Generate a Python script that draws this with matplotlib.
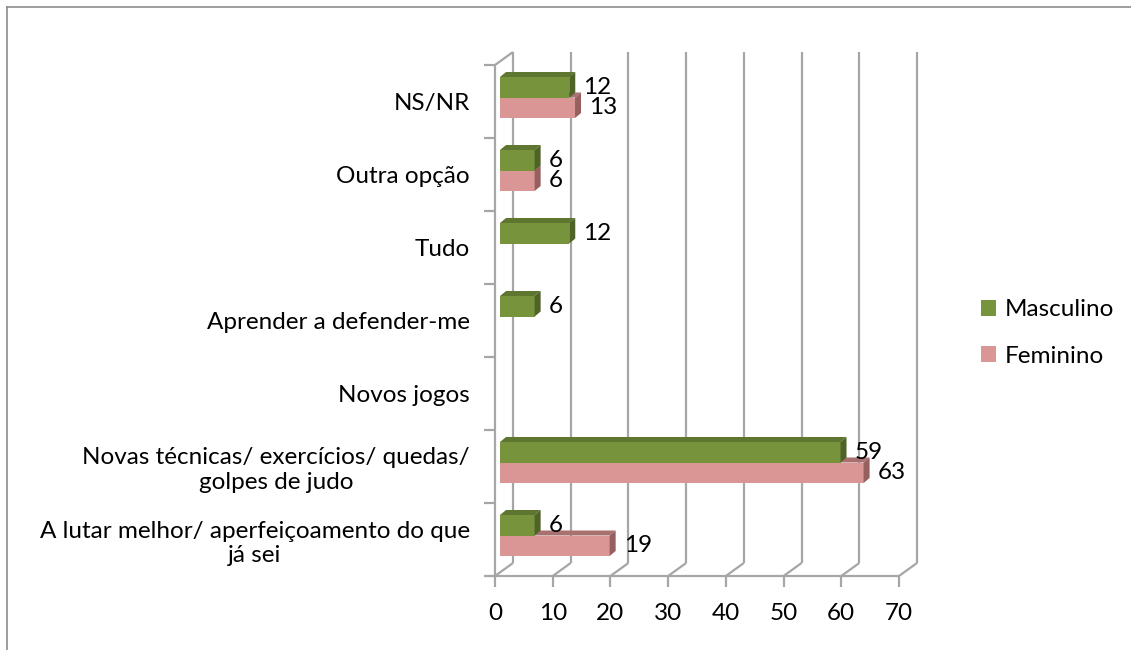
import matplotlib
matplotlib.use("Agg")
import matplotlib.pyplot as plt
from matplotlib.patches import Polygon, Patch
from matplotlib.lines import Line2D

plt.rcParams['font.family'] = ['Lato', 'DejaVu Sans']

# ---- data (bottom to top) ----
categories = [
    "A lutar melhor/ aperfeiçoamento do que\njá sei",
    "Novas técnicas/ exercícios/ quedas/\ngolpes de judo",
    "Novos jogos",
    "Aprender a defender-me",
    "Tudo",
    "Outra opção",
    "NS/NR",
]
masculino = [6, 59, None, 6, 12, 6, 12]
feminino = [19, 63, None, None, None, 6, 13]
series_names = ["Masculino", "Feminino"]
x_ticks = [0, 10, 20, 30, 40, 50, 60, 70]

# ---- styling ----
W, H, DPI = 1131, 650, 100
FS = 17.5
green = dict(front="#77933C", top="#5F7631", side="#4F6228")
pink = dict(front="#D99694", top="#A8706F", side="#96605F")
grid_col = "#A6A6A6"

fig = plt.figure(figsize=(W / DPI, H / DPI), dpi=DPI)
ax_l, ax_r, ax_t, ax_b = 495, 899, 65, 576
ax = fig.add_axes([ax_l / W, 1 - ax_b / H, (ax_r - ax_l) / W, (ax_b - ax_t) / H])
ax.set_xlim(0, 70)
ax.set_ylim(-0.5, 6.5)
ax.patch.set_visible(False)

ppx = (ax_r - ax_l) / 70.0   # pixels per x unit
ppy = (ax_b - ax_t) / 7.0    # pixels per category

# back wall offset (pixels -> data)
bdx, bdy = 18 / ppx, 13 / ppy
# bar-plane offset
ox, oy = 5 / ppx, 4 / ppy
# bar depth
ddx, ddy = 6 / ppx, 5 / ppy
bh = 20.5 / ppy

lkw = dict(color=grid_col, lw=1.6, clip_on=False, solid_capstyle="butt")
# back wall gridlines and floor diagonals
for k in x_ticks:
    ax.plot([k + bdx, k + bdx], [-0.5 + bdy, 6.5 + bdy], **lkw)
    ax.plot([k, k + bdx], [-0.5, -0.5 + bdy], **lkw)
# left wall
ax.plot([0, 0], [-0.5, 6.5], **lkw)
ax.plot([0, bdx], [6.5, 6.5 + bdy], **lkw)
ax.plot([0, 70], [-0.5, -0.5], **lkw)

for s in ax.spines.values():
    s.set_visible(False)

# ticks
ax.set_xticks(x_ticks)
ax.set_xticklabels([str(t) for t in x_ticks], fontsize=FS)
ax.tick_params(axis="x", length=8, width=1.6, color=grid_col, pad=11.5)
ax.set_yticks(range(len(categories)))
ax.set_yticklabels(categories, fontsize=FS, multialignment="center")
ax.tick_params(axis="y", which="major", length=0, pad=18)
ax.set_yticks([i - 0.5 for i in range(len(categories) + 1)], minor=True)
ax.tick_params(axis="y", which="minor", length=8, width=1.6, color=grid_col)


def draw_bars(vals, col, sign):
    ys, ws = [], []
    for i, v in enumerate(vals):
        if v is None:
            continue
        ys.append(i + oy + sign * bh / 2)
        ws.append(v)
    ax.barh(ys, ws, height=bh, left=ox, color=col["front"], clip_on=False,
            edgecolor="none", zorder=3)
    for y, v in zip(ys, ws):
        x0, x1 = ox, ox + v
        yb, yt = y - bh / 2, y + bh / 2
        ax.add_patch(Polygon([(x0, yt), (x1, yt), (x1 + ddx, yt + ddy), (x0 + ddx, yt + ddy)],
                             closed=True, fc=col["top"], ec="none", clip_on=False, zorder=3))
        ax.add_patch(Polygon([(x1, yb), (x1, yt), (x1 + ddx, yt + ddy), (x1 + ddx, yb + ddy)],
                             closed=True, fc=col["side"], ec="none", clip_on=False, zorder=3))
        ax.annotate(str(v), xy=(x1, y), xytext=(14, 0), textcoords="offset pixels",
                    ha="left", va="center", fontsize=FS, zorder=5, annotation_clip=False)


draw_bars(feminino, pink, -1)
draw_bars(masculino, green, +1)

# legend
handles = [Patch(facecolor=green["front"], edgecolor="none"),
           Patch(facecolor=pink["front"], edgecolor="none")]
fig.legend(handles, series_names, loc="center left",
           bbox_to_anchor=(981 / W, 1 - 333 / H), frameon=False, fontsize=FS,
           handlelength=0.62, handleheight=0.62, handletextpad=0.35, labelspacing=1.05,
           borderpad=0, borderaxespad=0)

# outer chart border (left and top visible)
fig.add_artist(Line2D([7 / W, 7 / W], [0, 1 - 7 / H], color="#8C8C8C", lw=1.2,
                      transform=fig.transFigure))
fig.add_artist(Line2D([7 / W, 1], [1 - 7 / H, 1 - 7 / H], color="#8C8C8C", lw=1.2,
                      transform=fig.transFigure))

fig.savefig("out.png", dpi=DPI, facecolor="white")
